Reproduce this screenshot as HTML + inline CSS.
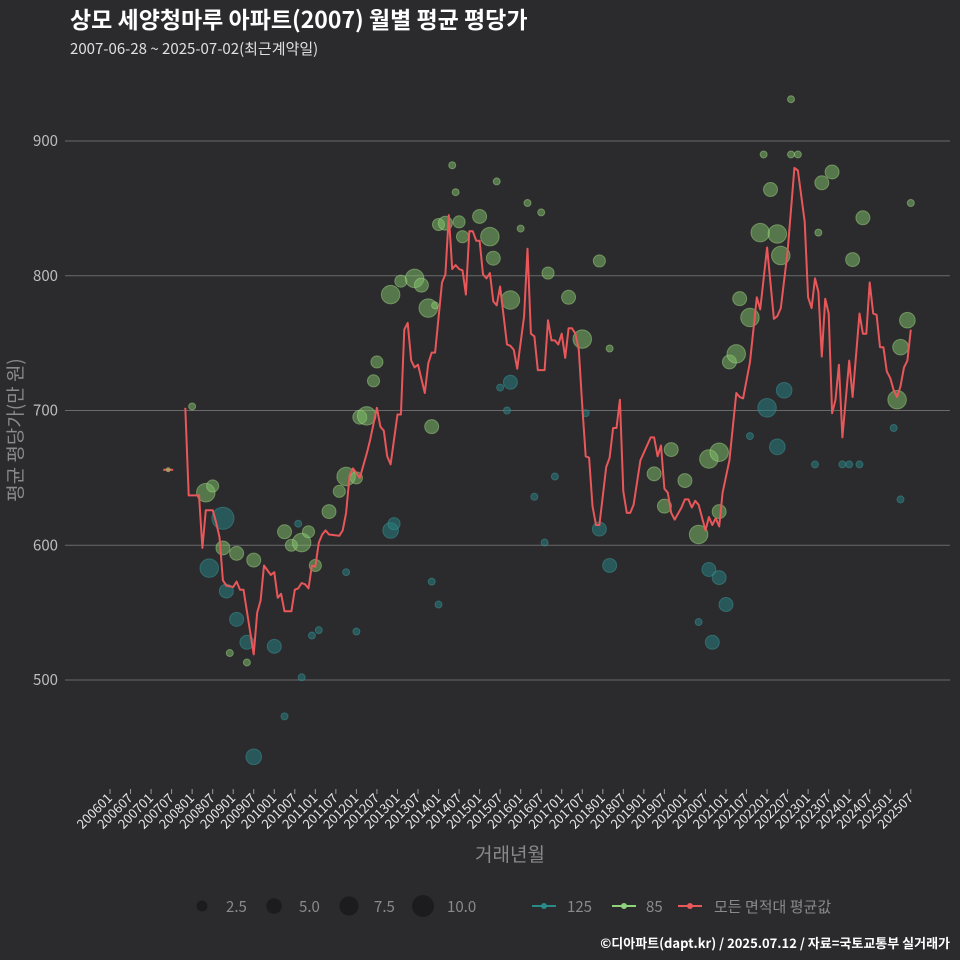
<!DOCTYPE html>
<html><head><meta charset="utf-8"><style>
body{margin:0;background:#2b2a2d;}
svg{display:block;font-family:"Noto Sans CJK KR","Liberation Sans",sans-serif;}
</style></head><body>
<svg id="chart" width="960" height="960" viewBox="0 0 960 960">
<rect x="0" y="0" width="960" height="960" fill="#2b2a2d"/>
<text x="70" y="28" fill="#ffffff" font-size="23" font-weight="bold">상모 세양청마루 아파트(2007) 월별 평균 평당가</text>
<text x="70" y="54" fill="#e0e0e0" font-size="15">2007-06-28 ~ 2025-07-02(최근계약일)</text>
<g id="grid"></g>
<g id="yaxis"></g>
<g id="xaxis"></g>
<g id="bubbles"></g>
<g id="line"></g>
<text transform="translate(22,430) rotate(-90)" text-anchor="middle" fill="#8a8a8a" font-size="19">평균 평당가(만 원)</text>
<text x="510" y="861" text-anchor="middle" fill="#8a8a8a" font-size="19">거래년월</text>
<g id="legend">
 <g><circle cx="202" cy="906" r="5.5" fill="#1c1c1e"/><text x="226" y="912" fill="#8a8a8a" font-size="15">2.5</text></g>
 <g><circle cx="274" cy="906" r="7.8" fill="#1c1c1e"/><text x="299" y="912" fill="#8a8a8a" font-size="15">5.0</text></g>
 <g><circle cx="349" cy="906" r="9.6" fill="#1c1c1e"/><text x="374" y="912" fill="#8a8a8a" font-size="15">7.5</text></g>
 <g><circle cx="423" cy="906" r="11" fill="#1c1c1e"/><text x="447" y="912" fill="#8a8a8a" font-size="15">10.0</text></g>
 <g><line x1="532" y1="906" x2="556" y2="906" stroke="#2a8a8a" stroke-width="2"/><circle cx="544" cy="906" r="3" fill="#2a8a8a"/><text x="567" y="912" fill="#8a8a8a" font-size="15">125</text></g>
 <g><line x1="612" y1="906" x2="636" y2="906" stroke="#8fd47a" stroke-width="2"/><circle cx="624" cy="906" r="3" fill="#8fd47a"/><text x="646" y="912" fill="#8a8a8a" font-size="15">85</text></g>
 <g><line x1="678" y1="906" x2="702" y2="906" stroke="#e8575a" stroke-width="2"/><circle cx="690" cy="906" r="3" fill="#e8575a"/><text x="714" y="912" fill="#8a8a8a" font-size="15">모든 면적대 평균값</text></g>
</g>
<text x="950" y="948" text-anchor="end" fill="#ffffff" font-size="13" font-weight="bold">©디아파트(dapt.kr) / 2025.07.12 / 자료=국토교통부 실거래가</text>
</svg>
<script>
// months since 2006-01 (0 = 200601)
const lineMonths=[22,23,26,27,28,30,31,32,33,34,36,37,38,39,42,43,44,45,47,48,49,50,51,53,54,55,56,57,58,59,60,61,62,63,64,67,68,69,70,71,73,75,76,78,79,80,81,82,84,85,86,87,88,89,90,92,93,94,95,97,98,99,100,101,102,103,104,105,106,107,108,109,110,111,112,113,114,116,117,118,119,121,122,123,124,125,127,128,129,130,131,132,133,134,135,136,137,138,139,140,141,142,143,145,146,147,148,149,150,151,152,153,155,158,159,160,161,162,163,164,165,167,168,169,170,171,172,174,175,176,177,178,179,181,183,184,185,187,189,190,192,194,195,196,198,200,201,203,204,205,206,207,208,209,210,211,212,213,214,216,217,219,220,221,222,223,224,225,226,227,228,229,230,231,232,233,234];
const lineValues=[702,637,637,598,626,626,617,606,574,570,569,573,567,567,519,550,559,585,578,580,561,564,551,551,567,568,572,571,568,585,584,602,608,611,608,607,611,624,652,657,650,668,678,702,688,685,666,660,697,697,760,765,737,732,734,713,735,743,743,795,801,845,805,808,805,804,786,833,833,826,826,801,798,802,781,778,792,749,748,745,731,770,820,757,755,730,730,767,752,752,749,757,739,761,761,757,745,703,666,665,629,615,615,658,665,687,687,708,640,624,624,630,663,680,680,666,674,642,639,624,619,628,634,634,628,633,630,611,621,615,620,614,639,663,713,710,709,736,784,775,821,768,770,776,818,880,878,840,784,776,798,788,740,783,772,698,708,734,680,737,710,772,757,757,795,772,771,747,747,729,724,715,710,718,732,737,760];
const firstPointMonth=[17];
const firstPointValue=[656];
const greenMonths=[24,28,30,33,37,42,40,35,51,53,56,58,60,64,67,69,72,73,75,77,78,82,85,89,91,93,94,95,96,98,102,103,108,111,112,117,120,126,128,134,138,143,146,159,162,164,168,172,175,178,178,181,183,184,187,190,193,195,196,208,211,217,220,230,231,233,234,100,101,113,122,199,191,199,201,207];
const greenValues=[703,639,644,598,594,589,513,520,610,600,602,610,585,625,640,651,650,695,696,722,736,786,796,798,793,776,688,778,838,839,840,829,844,829,813,782,835,847,802,784,753,811,746,653,629,671,648,608,664,669,625,736,742,783,769,832,864,831,815,869,877,812,843,708,747,767,854,882,862,870,854,931,890,890,890,832];
const greenCounts=[1,7,3,4,4,4,1,1,4,3,7,3,3,4,3,7,3,4,7,3,3,7,3,7,4,7,4,1,3,4,3,3,4,7,4,7,1,1,3,4,7,3,1,4,4,4,4,7,7,7,4,4,7,4,7,7,4,7,7,4,4,4,4,7,5,5,1,1,1,1,1,1,1,1,1,1];
const tealMonths=[33,29,34,37,40,48,42,82,83,117,143,146,175,176,178,180,192,195,197,51,56,59,61,55,72,69,94,96,114,116,124,130,127,139,172,187,206,214,216,219,231,229];
const tealValues=[620,583,566,545,528,525,443,611,616,721,612,585,582,528,576,556,702,673,715,473,502,533,537,616,536,580,573,556,717,700,636,651,602,698,543,681,660,660,660,660,634,687];
const tealCounts=[10,7,4,4,4,4,5,5,3,4,4,4,4,4,4,4,7,5,5,1,1,1,1,1,1,1,1,1,1,1,1,1,1,1,1,1,1,1,1,1,1,1];
const yTicks=[500,600,700,800,900];
const xTickLabels=[];
for(let y=2006;y<=2025;y++){xTickLabels.push(y+'01');xTickLabels.push(y+'07');}

const NS='http://www.w3.org/2000/svg';
function xScale(m){return 110+m*3.4222;}
function yScale(v){return 141+(900-v)*1.3475;}
function rScale(n){return Math.sqrt(n)*3.5;}
function mk(tag,attrs,parent){const e=document.createElementNS(NS,tag);for(const k in attrs)e.setAttribute(k,attrs[k]);parent.appendChild(e);return e;}
const grid=document.getElementById('grid'),yax=document.getElementById('yaxis'),xax=document.getElementById('xaxis');
yTicks.forEach(v=>{
 const l=mk('line',{x1:65,x2:950,y1:yScale(v),y2:yScale(v),stroke:'#6a6a6a','stroke-width':1},grid);
 
 
 const t=mk('text',{x:58,y:yScale(v)+5,'text-anchor':'end',fill:'#bdbdbd','font-size':15},yax);
 t.textContent=v;
 
 
});
xTickLabels.forEach((lab,i)=>{
 const x=xScale(i*6);
 const tk=mk('line',{x1:x,x2:x,y1:789,y2:794,stroke:'#9a9a9a','stroke-width':1},xax);
 
 
 const t=mk('text',{transform:'translate('+(x+3)+',799) rotate(-45)','text-anchor':'end',fill:'#e6e6e6','font-size':13},xax);
 t.textContent=lab;
 
 
});
const bub=document.getElementById('bubbles');
tealMonths.forEach((m,i)=>{
 const c=mk('circle',{cx:xScale(m),cy:yScale(tealValues[i]),r:rScale(tealCounts[i]),fill:'rgba(40,125,128,0.55)',stroke:'rgba(60,150,150,0.5)','stroke-width':1},bub);
 
 
});
greenMonths.forEach((m,i)=>{
 const c=mk('circle',{cx:xScale(m),cy:yScale(greenValues[i]),r:rScale(greenCounts[i]),fill:'rgba(130,195,105,0.5)',stroke:'rgba(170,225,140,0.45)','stroke-width':1},bub);
 
 
});
const lg=document.getElementById('line');
const pts=lineMonths.map((m,i)=>xScale(m).toFixed(1)+','+yScale(lineValues[i]).toFixed(1)).join(' ');
const pl=mk('polyline',{points:pts,fill:'none',stroke:'#e8575a','stroke-width':2,'stroke-linejoin':'round'},lg);


firstPointMonth.forEach((m,i)=>{
 const s=mk('line',{x1:xScale(m)-5,x2:xScale(m)+5,y1:yScale(firstPointValue[i]),y2:yScale(firstPointValue[i]),stroke:'#e8575a','stroke-width':2},lg);
 
 
 const c=mk('circle',{cx:xScale(m),cy:yScale(firstPointValue[i]),r:2.5,fill:'rgba(170,170,100,0.8)'},lg);
 
 
});
</script>
</body></html>
